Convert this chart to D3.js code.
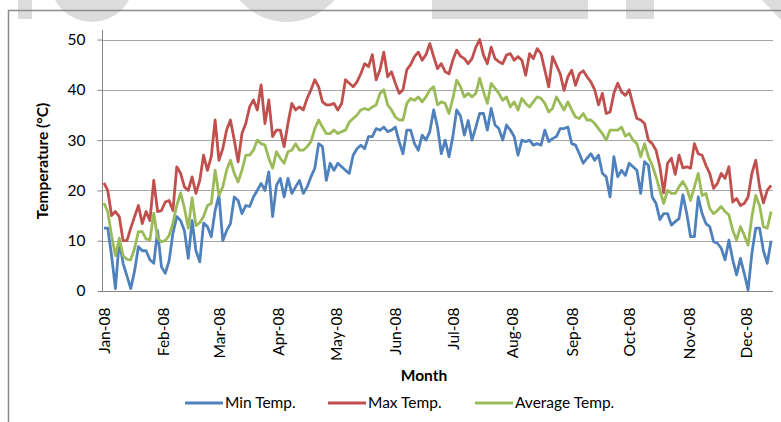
<!DOCTYPE html>
<html>
<head>
<meta charset="utf-8">
<script src="https://cdn.jsdelivr.net/npm/d3@7"></script>
<style>
	body { margin: 0; background: #fff; }
	svg { display: block; font-family: Lato, "Noto Sans", sans-serif; }
</style>
</head>
<body>
<svg id="chart" width="781" height="422"></svg>
<script>
// daily readings, one value every 2 days starting 1 Jan 2008
var startDate = new Date(2008, 0, 1);
var stepDays = 2;

var minTemp = [
	12.5, 12.5, 7, 0.5, 10, 5.5, 3, 0.5, 4, 8.8, 8, 8, 6.2, 5.5, 12, 4.8, 3.5, 6, 11.5, 14.8, 14, 12, 6.5, 14, 8, 5.8, 13.5, 12.8, 10.8, 16,
	19, 10, 12, 13.4, 18.7, 18, 15.4, 17, 16.8, 18.7, 20, 21.4, 20, 23.7, 14.8, 21, 22.4, 18.7, 22.4, 19.4, 20.7, 22, 19.4, 20.7, 22.7, 24.4, 29.3, 28.7, 22,
	25.4, 24, 25.4, 24.7, 24, 23.4, 27, 28.3, 29, 28.3, 30.7, 30.7, 32.3, 32, 32.6, 31.7, 32, 32.6, 29.7, 27.3, 32, 32, 29.3, 28, 31, 30, 31.7, 36, 32.6, 27.3,
	30, 26.7, 30.7, 36, 34.8, 31, 33.9, 30, 32.6, 35.3, 35.3, 32, 36.3, 33, 32.3, 30, 33, 32, 30.7, 27, 30, 29.7, 30, 29, 29.3, 29, 32, 29.7, 30.3, 30.7,
	32.3, 32.3, 32.6, 29.3, 29, 27.3, 25.4, 26.4, 27.3, 26, 27, 23.4, 22.7, 18.7, 26.7, 22.7, 24, 23, 25.4, 24.7, 24, 19.4, 25.7, 25, 18.7, 17.4, 14.2, 15.4, 15.4, 13.1,
	13.8, 14.4, 19.1, 15.4, 10.8, 10.8, 18.7, 15.4, 13.4, 12.8, 9.8, 9.5, 8.5, 6.2, 10.1, 6.2, 3.2, 6.5, 3.5, 0.2, 7.5, 12.5, 12.5, 8, 5.5, 10
];

var maxTemp = [
	21.5, 20, 15, 15.8, 14.8, 10, 10, 12.5, 14.8, 17, 13.4, 15.8, 14, 22, 15.8, 16, 17.7, 18, 16, 24.7, 23.4, 20.7, 20, 22.7, 19.4, 22, 27, 24, 26.7, 34,
	26, 28.3, 32, 34, 30, 25.7, 31.3, 33.3, 36.6, 38, 36, 41, 33.3, 38, 30.7, 32, 32, 28.7, 33.3, 37.3, 36, 36.6, 36, 38.3, 40, 42, 40.6, 37.6, 37,
	37, 37.3, 36, 37.3, 42, 41.3, 40.6, 41.6, 43.2, 45.2, 44.6, 47, 42, 44, 47.5, 42.6, 43.6, 41.3, 39.3, 40, 44, 45, 46.6, 47.5, 45.9, 47, 49.2, 46.6, 44.2, 45.2,
	43.6, 43.2, 45.9, 47.9, 46.7, 46.2, 45.2, 46.2, 48.5, 50, 46.9, 45.2, 48.5, 46.2, 45.6, 45.2, 46.9, 47.2, 45.9, 46.6, 45.9, 42.9, 47.2, 46.2, 48.2, 47.2, 43.9, 40.6, 46.6, 44.9,
	43.2, 39.9, 42.6, 43.9, 40.9, 43.2, 43.8, 42.6, 41.6, 40, 37, 39.3, 35.3, 35.6, 39.3, 41.3, 39.6, 38.9, 40, 37, 34.3, 34, 33.3, 30, 29.3, 28, 24.7, 19.5, 25.4, 26.4,
	23.2, 27, 24.5, 24.7, 24.4, 29.3, 27.3, 27, 25, 23.4, 20.4, 21.4, 23.4, 22.4, 24.7, 17.7, 18.4, 17, 17.4, 18.7, 23.4, 26, 20.7, 17.5, 20, 21
];

var avgTemp = [
	17.5, 15.8, 11, 7, 10.5, 7, 6.3, 6.2, 8.5, 11.8, 11.8, 10.3, 10.2, 15.5, 10.5, 9.8, 10, 11, 13.5, 17, 19.5, 16.5, 12.5, 18.5, 13, 13.6, 14.8, 17, 17.4, 24,
	19, 20.7, 24, 26, 23.4, 21.7, 24, 27, 27, 28, 30, 29.3, 29, 26.4, 24.4, 27.7, 26.4, 25.4, 27.7, 28, 29.3, 28, 28, 28.7, 29.7, 32.3, 34, 32.6, 31.3,
	31.3, 32, 31.3, 31.7, 32, 33.6, 34.3, 35, 36, 36.3, 36, 36.6, 37, 39.3, 40, 37, 36, 34.6, 34, 34, 37.3, 38.3, 37.9, 38.6, 37.6, 38.6, 40, 40.6, 37, 37.6,
	37.3, 35.3, 38.3, 41.9, 40.6, 38.6, 39.3, 38.6, 39.3, 42.3, 39.6, 37.3, 41.3, 40.3, 39.3, 37.9, 38.6, 36.6, 37.6, 36, 38.3, 37.3, 36.6, 37.6, 38.6, 38.3, 37.3, 35.6, 36.3, 38.6,
	37.3, 36, 37.6, 36, 34.6, 34.3, 35.3, 34, 34, 33.3, 32.3, 31.3, 30, 32, 32, 32, 32.6, 30.8, 31.3, 30, 29.3, 26.7, 29.3, 26.7, 25, 22.7, 20, 17.4, 20, 19.4,
	19.4, 20.7, 21.8, 20.4, 18, 20.7, 23.4, 19, 19.4, 16.4, 15.4, 16, 16.8, 15.8, 15.1, 12.1, 10.1, 12.8, 11.1, 9.1, 14.8, 19, 17, 12.8, 12.5, 15.8
];

var seriesNames = ["Min Temp.", "Max Temp.", "Average Temp."];
var seriesColors = ["#4F81BD", "#C0504D", "#9BBB59"];
var yTicks = [0, 10, 20, 30, 40, 50];

var svg = d3.select("#chart");

// faded watermark letters along the top edge
var ghost = svg.append("g").attr("fill", "#dcdcdc");
ghost.append("rect").attr("x", 18).attr("y", 0).attr("width", 14).attr("height", 19);
ghost.append("circle").attr("cx", 92).attr("cy", -20).attr("r", 42);
ghost.append("circle").attr("cx", 287).attr("cy", -40).attr("r", 62);
ghost.append("rect").attr("x", 432).attr("y", 0).attr("width", 156).attr("height", 19);
ghost.append("rect").attr("x", 626).attr("y", 0).attr("width", 28).attr("height", 19);
ghost.append("path").attr("d", "M762,0 L781,0 L781,20 Z");

// chart frame (runs off the right and bottom edge)
svg.append("path")
	.attr("d", "M8.5,422 L8.5,10.5 L781,10.5")
	.attr("fill", "none")
	.attr("stroke", "#8c8c8c")
	.attr("stroke-width", 1.5);

var plotLeft = 102, plotRight = 773, plotTop = 30, plotBottom = 291;

var x = d3.scaleTime()
	.domain([d3.timeDay.offset(startDate, -1), new Date(2008, 11, 15)])
	.range([plotLeft, plotRight]);

var y = d3.scaleLinear()
	.domain([0, 51.9])
	.range([plotBottom, plotTop]);

var dates = minTemp.map(function(d, i) {
	return d3.timeDay.offset(startDate, i * stepDays);
});

// gridlines
svg.append("g")
	.selectAll("line")
	.data(yTicks.filter(function(t) { return t > 0; }))
	.enter()
	.append("line")
	.attr("x1", plotLeft)
	.attr("x2", plotRight)
	.attr("y1", function(d) { return Math.round(y(d)) + 0.5; })
	.attr("y2", function(d) { return Math.round(y(d)) + 0.5; })
	.attr("stroke", "#a6a6a6")
	.attr("stroke-width", 1);

// y axis
var yAxis = svg.append("g")
	.attr("transform", "translate(" + (plotLeft + 0.5) + ",0)")
	.call(d3.axisLeft(y).tickValues(yTicks).tickSize(5).tickPadding(12));
yAxis.select(".domain").attr("stroke", "#868686").attr("d", "M0," + plotTop + "V" + (plotBottom + 0.5));
yAxis.selectAll(".tick line").attr("stroke", "#868686");
yAxis.selectAll(".tick text")
	.attr("font-family", "Lato, sans-serif")
	.attr("font-size", 15.5)
	.attr("fill", "#000");

// x axis with rotated month labels
var xAxis = svg.append("g")
	.attr("transform", "translate(0," + (plotBottom + 0.5) + ")")
	.call(d3.axisBottom(x)
		.tickValues(d3.timeMonths(startDate, new Date(2008, 11, 2)))
		.tickFormat(d3.timeFormat("%b-%y"))
		.tickSize(0));
xAxis.select(".domain").attr("stroke", "#868686").attr("d", "M" + plotLeft + ",0H" + plotRight);
xAxis.selectAll(".tick text")
	.attr("font-family", "Lato, sans-serif")
	.attr("font-size", 15.5)
	.attr("fill", "#000")
	.attr("text-anchor", "end")
	.attr("dy", "0.35em")
	.attr("y", 0)
	.attr("transform", "translate(0,16) rotate(-90)");

// series lines
var line = d3.line()
	.x(function(d, i) { return x(dates[i]); })
	.y(function(d) { return y(d); });

[minTemp, maxTemp, avgTemp].forEach(function(values, k) {
	svg.append("path")
		.datum(values)
		.attr("fill", "none")
		.attr("stroke", seriesColors[k])
		.attr("stroke-width", 2.8)
		.attr("stroke-linejoin", "round")
		.attr("d", line);
});

// axis titles
svg.append("text")
	.attr("transform", "translate(48,161) rotate(-90)")
	.attr("text-anchor", "middle")
	.attr("font-size", 15.5)
	.attr("font-weight", "bold")
	.text("Temperature (°C)");

svg.append("text")
	.attr("x", 424)
	.attr("y", 381)
	.attr("text-anchor", "middle")
	.attr("font-size", 15.5)
	.attr("font-weight", "bold")
	.text("Month");

// legend
var legendX = [185, 328, 475];
var legend = svg.append("g")
	.selectAll("g")
	.data(seriesNames)
	.enter()
	.append("g")
	.attr("transform", function(d, i) { return "translate(" + legendX[i] + ",403)"; });

legend.append("line")
	.attr("x1", 0)
	.attr("x2", 38)
	.attr("stroke", function(d, i) { return seriesColors[i]; })
	.attr("stroke-width", 2.8);

legend.append("text")
	.attr("x", 40)
	.attr("dy", "0.35em")
	.attr("font-size", 15.5)
	.text(function(d) { return d; });
</script>
</body>
</html>
